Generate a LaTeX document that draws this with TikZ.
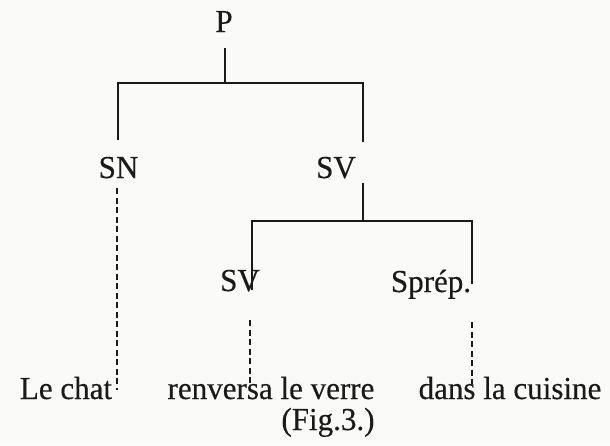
\documentclass[tikz,border=0pt]{standalone}
\usepackage{fontspec}
\setmainfont[FakeStretch=0.97,FakeBold=0.35]{Liberation Serif}
\definecolor{ink}{HTML}{1A1A1A}
\definecolor{paper}{HTML}{FAFAF8}
\begin{document}
\begin{tikzpicture}[x=1pt,y=-1pt,
  lbl/.style={font=\fontsize{32}{36}\selectfont, text=ink, inner sep=0pt, anchor=base},
  solidline/.style={draw=ink, line width=1.8pt},
  dashline/.style={draw=ink, line width=1.4pt, dash pattern=on 6pt off 3.5pt}]
\fill[paper] (0,0) rectangle (610,445);
\useasboundingbox (0,0) rectangle (610,445);
% labels
\node[lbl] (P)   at (224,32)  {P};
\node[lbl] (SN)  at (118.5,178) {SN};
\node[lbl] (SV1) at (336,178) {SV};
\node[lbl] (SV2) at (240,291) {SV};
\node[lbl] (SP)  at (431,292) {Sprép.};
\node[lbl] (w1)  at (66,399)  {Le chat};
\node[lbl] (w2)  at (271,399) {renversa le verre};
\node[lbl] (w3)  at (510,399) {dans la cuisine};
\node[lbl] (fig) at (328,430) {(Fig.3.)};
% junction points
\coordinate (a1) at (225,48);
\coordinate (a2) at (225,83);
\coordinate (aL) at (118,83);
\coordinate (aR) at (363,83);
\coordinate (snTop) at (118,140);
\coordinate (svTop) at (363,142);
\coordinate (b1) at (363,183);
\coordinate (b2) at (363,221);
\coordinate (bL) at (252,221);
\coordinate (bR) at (472,221);
\coordinate (sv2Top) at (252,290);
\coordinate (spTop) at (472,284);
\coordinate (d1a) at (117,188);
\coordinate (d1b) at (117,390);
\coordinate (d2a) at (250,320);
\coordinate (d2b) at (250,384);
\coordinate (d3a) at (472,322);
\coordinate (d3b) at (472,384);
% solid branches
\draw[solidline] (a1) -- (a2);
\draw[solidline] (snTop) -- (aL) -- (aR) -- (svTop);
\draw[solidline] (b1) -- (b2);
\draw[solidline] (sv2Top) -- (bL) -- (bR) -- (spTop);
% dashed leaves
\draw[dashline] (d1a) -- (d1b);
\draw[dashline] (d2a) -- (d2b);
\draw[dashline] (d3a) -- (d3b);
\end{tikzpicture}
\end{document}
